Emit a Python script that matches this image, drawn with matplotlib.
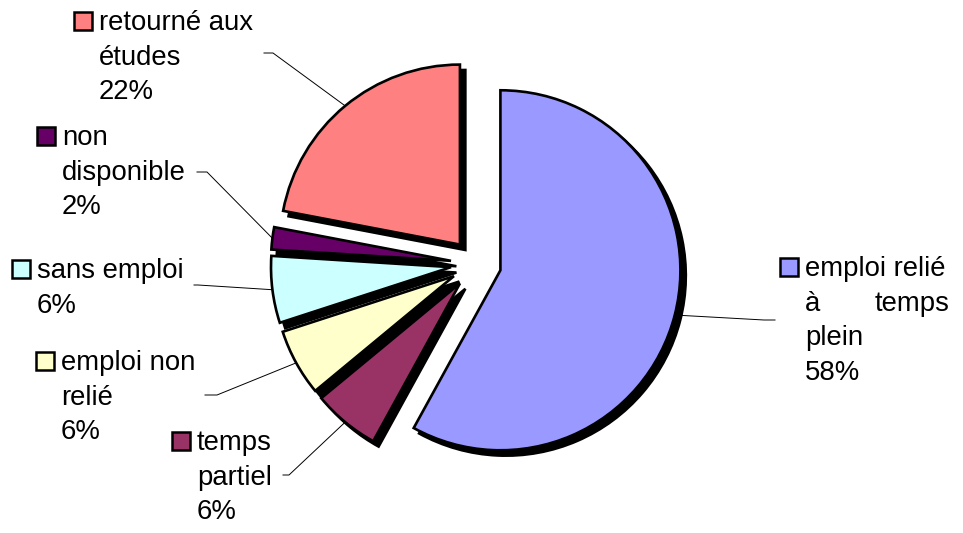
"""
Exploded pie chart - situation des diplômés
"""

import matplotlib
matplotlib.use('Agg')
import matplotlib.pyplot as plt
from matplotlib.patches import Wedge, Rectangle
import numpy as np

# Data
categories = ['emploi relié à temps plein', 'temps partiel', 'emploi non relié',
              'sans emploi', 'non disponible', 'retourné aux études']
percents = [58, 6, 6, 6, 2, 22]
label_lines = [['emploi relié', 'à temps', 'plein'],
               ['temps', 'partiel'],
               ['emploi non', 'relié'],
               ['sans emploi'],
               ['non', 'disponible'],
               ['retourné aux', 'études']]
colors = ['#9999FF', '#993366', '#FFFFCC', '#CCFFFF', '#660066', '#FF8080']

# Layout (pixels from top-left of the 963x533 image)
W, H = 963, 533
CX, CY, R = 476, 264, 180      # pie centre and radius
# text left x, first baseline y, stub start, stub end
label_pos = [(805, 276, (775, 320), (764, 320)),
             (197, 450, (283, 475), (289, 475)),
             (61, 370, (205, 395), (217, 395)),
             (37, 278, (194, 285), (198, 285)),
             (62, 145, (197, 172), (207, 172)),
             (99, 30, (264, 53), (273, 53))]
justify_right = {0: 949}   # label index -> right edge for justified 2nd line
LINE = 34.7
FS = 19.8

plt.rcParams['font.family'] = ['Liberation Sans', 'DejaVu Sans']

fig = plt.figure(figsize=(W / 100, H / 100), dpi=100)
ax = fig.add_axes([0, 0, 1, 1])


def px(x, y):
    return ((x - CX) / R, (CY - y) / R)


wedges, _ = ax.pie(percents, colors=colors, startangle=90, counterclock=False,
                   explode=[0.14] * len(percents), radius=1,
                   wedgeprops=dict(edgecolor='black', linewidth=1.9, zorder=3))

# Black drop shadow, down-right
for w in wedges:
    cx, cy = w.center
    ax.add_patch(Wedge((cx + 0.03, cy - 0.03), w.r, w.theta1, w.theta2,
                       facecolor='black', edgecolor='black', linewidth=1.9, zorder=2))

for i, (w, lines, pct) in enumerate(zip(wedges, label_lines, percents)):
    tx, by, s0, s1 = label_pos[i]
    all_lines = lines + [f'{pct}%']
    for j, line in enumerate(all_lines):
        bx, byy = px(tx, by + j * LINE)
        if i in justify_right and j == 1:
            first, last = line.split(' ', 1)
            ax.text(bx, byy, first, fontsize=FS, va='baseline', ha='left')
            rx, _ = px(justify_right[i], 0)
            ax.text(rx, byy, last, fontsize=FS, va='baseline', ha='right')
        else:
            ax.text(bx, byy, line, fontsize=FS, va='baseline', ha='left')
    # legend key square
    sx, sy = px(tx - 25, by)
    ax.add_patch(Rectangle((sx, sy), 18 / R, 18 / R, facecolor=w.get_facecolor(),
                           edgecolor='black', linewidth=1.8, zorder=4))
    # leader line to arc midpoint
    mid = np.deg2rad((w.theta1 + w.theta2) / 2)
    ex = w.center[0] + w.r * np.cos(mid)
    ey = w.center[1] + w.r * np.sin(mid)
    p0, p1 = px(*s0), px(*s1)
    ax.plot([p0[0], p1[0], ex], [p0[1], p1[1], ey], color='black', lw=0.7, zorder=1)

ax.set_xlim(-CX / R, (W - CX) / R)
ax.set_ylim(-(H - CY) / R, CY / R)
ax.set_aspect('auto')
ax.axis('off')

plt.savefig('out.png', dpi=100)
